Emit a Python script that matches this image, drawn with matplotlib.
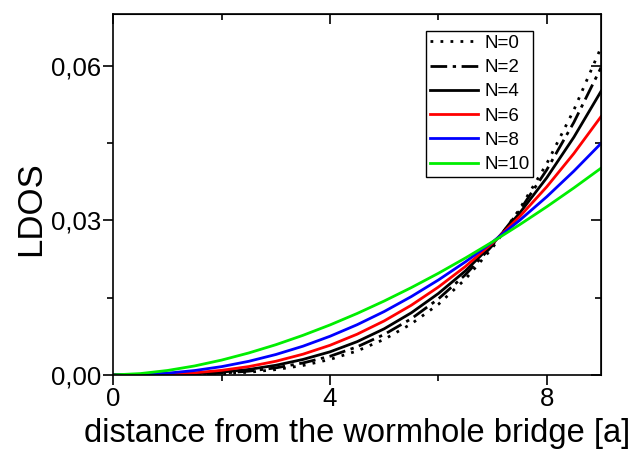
import numpy as np
import matplotlib
matplotlib.use("Agg")
import matplotlib.pyplot as plt
from matplotlib.ticker import FuncFormatter, MultipleLocator

plt.rcParams['font.family'] = ['Liberation Sans', 'DejaVu Sans']

x = [0, 0.5, 1, 1.5, 2, 2.5, 3, 3.5, 4, 4.5, 5, 5.5, 6, 6.5, 7, 7.5, 8, 8.5, 9]

n0 = [0, 0.000002, 0.00002, 0.00008, 0.00023, 0.00052, 0.00103, 0.00183, 0.00300,
      0.00465, 0.00690, 0.00990, 0.01370, 0.01860, 0.02470, 0.03220, 0.04100, 0.05140, 0.0635]
n2 = [0, 0.000003, 0.00003, 0.00013, 0.00034, 0.00073, 0.00137, 0.00232, 0.00362,
      0.00545, 0.00785, 0.01090, 0.01475, 0.01945, 0.02515, 0.03190, 0.03980, 0.04900, 0.0596]
n4 = [0, 0.000008, 0.00006, 0.00022, 0.00054, 0.00106, 0.00187, 0.00300, 0.00448,
      0.00645, 0.00895, 0.01205, 0.01580, 0.02020, 0.02540, 0.03140, 0.03826, 0.04612, 0.0550]
n6 = [0, 0.00002, 0.00014, 0.00041, 0.00089, 0.00162, 0.00265, 0.00402, 0.00575,
      0.00790, 0.01048, 0.01352, 0.01705, 0.02105, 0.02560, 0.03072, 0.03650, 0.04296, 0.0501]
n8 = [0, 0.00007, 0.00034, 0.00085, 0.00161, 0.00264, 0.00396, 0.00557, 0.00750,
      0.00974, 0.01230, 0.01520, 0.01842, 0.02195, 0.02580, 0.03000, 0.03457, 0.03954, 0.0449]
n10 = [0, 0.00026, 0.00086, 0.00174, 0.00288, 0.00426, 0.00586, 0.00768, 0.00970,
       0.01192, 0.01434, 0.01694, 0.01972, 0.02269, 0.02583, 0.02915, 0.03263, 0.03628, 0.0401]

series = [n0, n2, n4, n6, n8, n10]
labels = ["N=0", "N=2", "N=4", "N=6", "N=8", "N=10"]
colors = ["black", "black", "black", "#ff0000", "#0000ff", "#00ee00"]
styles = [(0, (1, 2.6)), (0, (6, 2, 1.2, 2)), "-", "-", "-", "-"]

fig = plt.figure(figsize=(6.4, 4.55), dpi=100)
ax = fig.add_axes([0.177, 0.176, 0.762, 0.793])

for y, lab, c, ls in zip(series, labels, colors, styles):
    ax.plot(x, y, color=c, linestyle=ls, linewidth=2.0, label=lab)

ax.set_xlim(0, 9)
ax.set_ylim(0, 0.07)
ax.xaxis.set_major_locator(MultipleLocator(4))
ax.xaxis.set_minor_locator(MultipleLocator(2))
ax.yaxis.set_major_locator(MultipleLocator(0.03))
ax.yaxis.set_minor_locator(MultipleLocator(0.015))
ax.yaxis.set_major_formatter(FuncFormatter(lambda v, p: ("%.2f" % v).replace(".", ",")))

ax.tick_params(which="both", direction="out", top=False, right=False, labelsize=18.5, width=1.2)
ax.tick_params(which="major", length=7, pad=2)
ax.tick_params(which="minor", length=4)

# inward ticks on the top and right spines
ax2 = ax.secondary_xaxis("top")
ax2.xaxis.set_major_locator(MultipleLocator(4))
ax2.xaxis.set_minor_locator(MultipleLocator(2))
ax2.tick_params(which="both", direction="in", labeltop=False, width=1.2)
ax2.tick_params(which="major", length=7)
ax2.tick_params(which="minor", length=4)
ax3 = ax.secondary_yaxis("right")
ax3.yaxis.set_major_locator(MultipleLocator(0.03))
ax3.yaxis.set_minor_locator(MultipleLocator(0.015))
ax3.tick_params(which="both", direction="in", labelright=False, width=1.2)
ax3.tick_params(which="major", length=7)
ax3.tick_params(which="minor", length=4)

for s in ax.spines.values():
    s.set_linewidth(1.2)

ax.set_xlabel("distance from the wormhole bridge [a]", fontsize=23.5, labelpad=5)
ax.set_ylabel("LDOS", fontsize=25)
ax.yaxis.set_label_coords(-0.135, 0.46)

leg = ax.legend(loc="upper left", bbox_to_anchor=(0.641, 0.953), borderaxespad=0,
                fontsize=13.5, fancybox=False, framealpha=1, edgecolor="black",
                handlelength=2.6, handletextpad=0.3, labelspacing=0.38, borderpad=0.2)
leg.get_frame().set_linewidth(1.0)

fig.savefig("out.png", dpi=100)
